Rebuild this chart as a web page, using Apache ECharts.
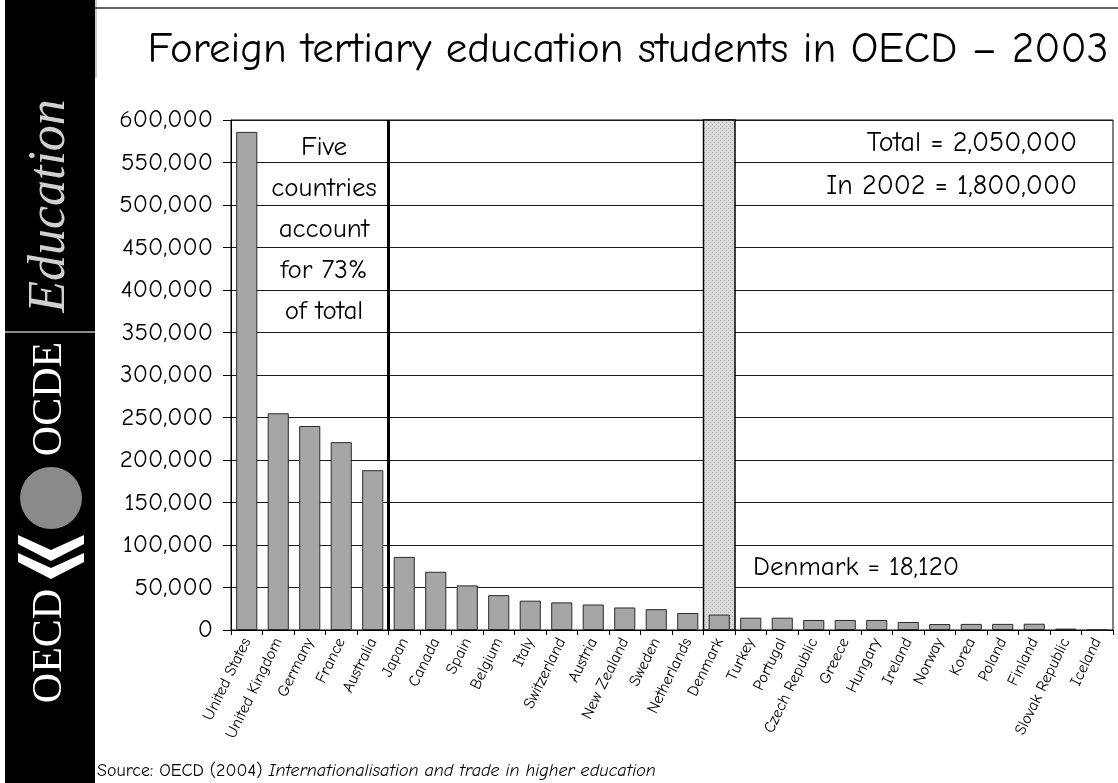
<!DOCTYPE html>
<html>
<head>
<meta charset="utf-8">
<script src="https://cdn.jsdelivr.net/npm/echarts@6/dist/echarts.min.js"></script>
<style>
  html, body { margin: 0; padding: 0; background: #ffffff; }
  #chart { width: 1118px; height: 783px; }
</style>
</head>
<body>
<div id="chart"></div>
<script>
// Foreign tertiary students hosted by each OECD country, 2003
const countries = [
  'United States', 'United Kingdom', 'Germany', 'France', 'Australia',
  'Japan', 'Canada', 'Spain', 'Belgium', 'Italy', 'Switzerland', 'Austria',
  'New Zealand', 'Sweden', 'Netherlands', 'Denmark', 'Turkey', 'Portugal',
  'Czech Republic', 'Greece', 'Hungary', 'Ireland', 'Norway', 'Korea',
  'Poland', 'Finland', 'Slovak Republic', 'Iceland'
];
const students = [
  586000, 255000, 240000, 221000, 188000,
  86000, 68500, 52500, 41000, 34500, 32500, 30000,
  26500, 24500, 20000, 18120, 14500, 14500,
  11800, 11800, 11800, 9400, 7000, 7200,
  7200, 7400, 1650, 300
];
const yMin = 0;
const yMax = 600000;
const yStep = 50000;

// Annotation text
const titleText = 'Foreign tertiary education students in OECD \u2013 2003';
const noteLines = ['Five', 'countries', 'account', 'for 73%', 'of total'];
const totalText = 'Total = 2,050,000';
const prevText = 'In 2002 = 1,800,000';
const highlightCountry = 'Denmark';
const topGroupSize = 5;

const FONT = "'Comic Sans MS', 'Comic Neue', 'DejaVu Sans', sans-serif";
const SERIF = "'Liberation Serif', 'DejaVu Serif', serif";
const fmt = v => Math.round(v).toLocaleString('en-US');

const highlightIdx = countries.indexOf(highlightCountry);

// light speckled fill for the highlighted column
function speckle() {
  const c = document.createElement('canvas');
  c.width = 4; c.height = 4;
  const g = c.getContext('2d');
  g.fillStyle = '#d9d9d9';
  g.fillRect(0, 0, 4, 4);
  g.fillStyle = '#b9b9b9';
  g.fillRect(0, 0, 1, 1);
  g.fillRect(2, 2, 1, 1);
  return c;
}
const speckleCanvas = speckle();

const chart = echarts.init(document.getElementById('chart'), null, { renderer: 'canvas' });

const option = {
  backgroundColor: '#ffffff',
  animation: false,
  textStyle: { fontFamily: FONT },
  grid: {
    left: 231, right: 5, top: 120, bottom: 153,
    show: true, borderColor: '#000', borderWidth: 1, backgroundColor: 'transparent'
  },
  xAxis: {
    type: 'category',
    data: countries,
    boundaryGap: true,
    axisLine: { lineStyle: { color: '#000', width: 1 } },
    axisTick: { show: true, length: 5, lineStyle: { color: '#000' } },
    axisLabel: {
      interval: 0, rotate: 64, margin: 9,
      fontFamily: FONT, fontSize: 16, color: '#000'
    },
    splitLine: { show: false }
  },
  yAxis: {
    type: 'value',
    min: yMin, max: yMax, interval: yStep,
    axisLine: { show: true, lineStyle: { color: '#000', width: 1 } },
    axisTick: { show: true, length: 8, lineStyle: { color: '#000' } },
    axisLabel: {
      margin: 18, fontFamily: FONT, fontSize: 25, color: '#000',
      formatter: v => fmt(v)
    },
    splitLine: { show: true, lineStyle: { color: '#1a1a1a', width: 1 } }
  },
  series: [
    {
      // shaded column behind the highlighted country
      type: 'custom',
      z: 1,
      silent: true,
      data: [[highlightIdx, yMax]],
      renderItem: (params, api) => {
        const top = api.coord([api.value(0), api.value(1)]);
        const bottom = api.coord([api.value(0), 0]);
        const w = api.size([1, 0])[0];
        return {
          type: 'rect',
          shape: { x: top[0] - w / 2, y: top[1], width: w, height: bottom[1] - top[1] },
          style: { fill: { image: speckleCanvas, repeat: 'repeat' }, stroke: '#000', lineWidth: 1.5 }
        };
      }
    },
    {
      type: 'bar',
      z: 3,
      data: students,
      barCategoryGap: '33%',
      itemStyle: { color: '#a6a6a6', borderColor: '#2b2b2b', borderWidth: 1 }
    },
    {
      // heavy divider after the top group of countries
      type: 'custom',
      z: 4,
      silent: true,
      data: [[topGroupSize, yMax]],
      renderItem: (params, api) => {
        const top = api.coord([api.value(0), api.value(1)]);
        const bottom = api.coord([api.value(0), 0]);
        const w = api.size([1, 0])[0];
        const x = top[0] - w / 2;
        return {
          type: 'line',
          shape: { x1: x, y1: top[1], x2: x, y2: bottom[1] },
          style: { stroke: '#000', lineWidth: 3 }
        };
      }
    }
  ],
  graphic: [
    // side banner
    { type: 'rect', shape: { x: 5, y: 0, width: 90, height: 783 }, style: { fill: '#000' }, z: 10 },
    { type: 'line', shape: { x1: 96, y1: 0, x2: 96, y2: 78 }, style: { stroke: '#9a9a9a', lineWidth: 1 }, z: 10 },
    {
      type: 'text', x: 50, y: 206, rotation: Math.PI / 2, z: 11,
      style: { text: 'Education', font: "italic 52px " + SERIF, fill: '#d0d0d0', textAlign: 'center', textVerticalAlign: 'middle' }
    },
    { type: 'rect', shape: { x: 5, y: 331, width: 90, height: 2 }, style: { fill: '#8c8c8c' }, z: 11 },
    {
      type: 'text', x: 50, y: 399, rotation: Math.PI / 2, z: 11,
      style: { text: 'OCDE', font: "42px " + SERIF, fill: '#ffffff', textAlign: 'center', textVerticalAlign: 'middle' }
    },
    { type: 'circle', shape: { cx: 51, cy: 498, r: 31 }, style: { fill: '#8a8a8a' }, z: 11 },
    {
      type: 'polygon', z: 11,
      shape: { points: [[18, 535], [51, 550], [84, 535], [84, 544], [51, 561], [18, 544]] },
      style: { fill: '#ffffff' }
    },
    {
      type: 'polygon', z: 11,
      shape: { points: [[18, 553], [51, 568], [84, 553], [84, 562], [51, 579], [18, 562]] },
      style: { fill: '#ffffff' }
    },
    {
      type: 'text', x: 50, y: 646, rotation: Math.PI / 2, z: 11,
      style: { text: 'OECD', font: "42px " + SERIF, fill: '#ffffff', textAlign: 'center', textVerticalAlign: 'middle' }
    },
    // rule along the top
    { type: 'line', shape: { x1: 95, y1: 8, x2: 1118, y2: 8 }, style: { stroke: '#333', lineWidth: 1.5 }, z: 10 },
    // title
    {
      type: 'text', x: 628, y: 50, z: 10,
      style: { text: titleText, font: "43px " + FONT, fill: '#000', textAlign: 'center', textVerticalAlign: 'middle' }
    },
    // note on the top group
    ...noteLines.map((t, i) => ({
      type: 'text', x: 324, y: 147 + i * 41, z: 10,
      style: { text: t, font: "27px " + FONT, fill: '#000', textAlign: 'center', textVerticalAlign: 'middle' }
    })),
    {
      type: 'text', x: 1077, y: 143, z: 10,
      style: { text: totalText, font: "28px " + FONT, fill: '#000', textAlign: 'right', textVerticalAlign: 'middle' }
    },
    {
      type: 'text', x: 1077, y: 186, z: 10,
      style: { text: prevText, font: "28px " + FONT, fill: '#000', textAlign: 'right', textVerticalAlign: 'middle' }
    },
    {
      type: 'text', x: 753, y: 567, z: 10,
      style: { text: highlightCountry + ' = ' + fmt(students[highlightIdx]), font: "27px " + FONT, fill: '#000', textAlign: 'left', textVerticalAlign: 'middle' }
    },
    // source line
    {
      type: 'text', x: 97, y: 771, z: 10,
      style: {
        text: '{n|Source: OECD (2004) }{i|Internationalisation and trade in higher education}',
        textVerticalAlign: 'middle',
        rich: {
          n: { fontFamily: FONT, fontSize: 18, color: '#000' },
          i: { fontFamily: FONT, fontSize: 18, fontStyle: 'italic', color: '#000' }
        }
      }
    }
  ]
};

chart.setOption(option);
</script>
</body>
</html>
